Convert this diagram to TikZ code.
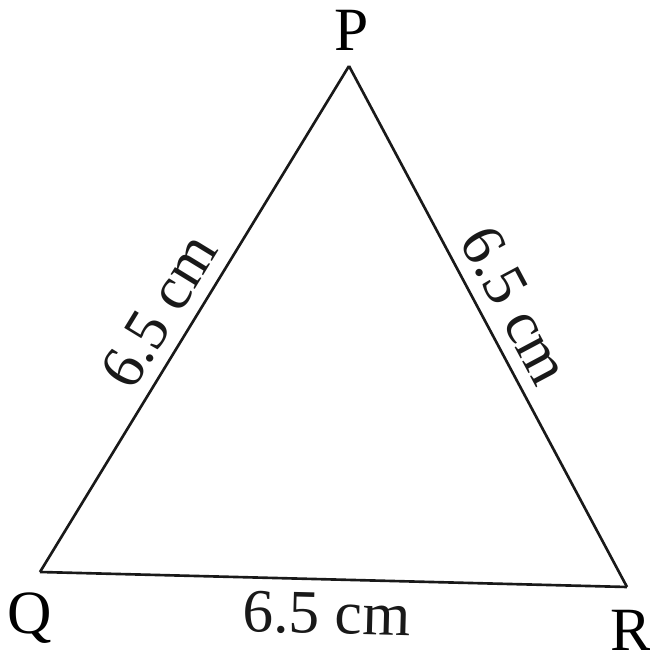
\documentclass[tikz,border=0pt]{standalone}
\usepackage{fontspec}
\setmainfont{Liberation Serif}
\usetikzlibrary{positioning,calc}

\begin{document}
\begin{tikzpicture}[
    every node/.style={font=\fontsize{35}{42}\selectfont},
    side/.style={line width=1.5pt, black!90},
    len/.style={sloped, inner sep=7pt},
]
\useasboundingbox (0,0) rectangle (13,13.22);

% Vertices
\coordinate (P) at (6.98,11.9);
\coordinate (Q) at (0.80,1.78);
\coordinate (R) at (12.54,1.48);

% Vertex labels
\node (lP) at (7.04,12.62) {P};
\node (lQ) at (0.60,0.86) {Q};
\node (lR) at (12.62,0.62) {R};

% Sides
\draw[side] (Q) -- node[len, above, pos=0.48] (sQP) {6.5 cm} (P);
\draw[side] (P) -- node[len, above, pos=0.49] (sPR) {6.5 cm} (R);
\draw[side] (Q) -- node[len, below, pos=0.49] (sQR) {6.5 cm} (R);
\end{tikzpicture}
\end{document}
